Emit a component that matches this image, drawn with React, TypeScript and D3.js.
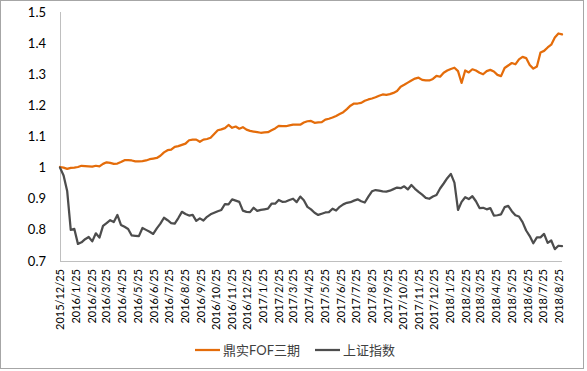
import React from "react";
import * as d3 from "d3";

// weekly net values, starting 2015/12/25
const startDate = "2015-12-25";
const endDate = "2018-08-31";

const fofValues = [
  1.002, 1.0, 0.996, 0.999, 1.0, 1.002, 1.006, 1.005, 1.004, 1.003,
  1.006, 1.004, 1.012, 1.017, 1.015, 1.012, 1.013, 1.018, 1.024, 1.024,
  1.023, 1.02, 1.02, 1.021, 1.023, 1.027, 1.029, 1.031, 1.038, 1.049,
  1.056, 1.058, 1.067, 1.069, 1.073, 1.077, 1.088, 1.09, 1.09, 1.083,
  1.09, 1.092, 1.096, 1.108, 1.12, 1.123, 1.127, 1.137, 1.128, 1.132,
  1.125, 1.13, 1.122, 1.118, 1.116, 1.114, 1.112, 1.113, 1.114, 1.12,
  1.126, 1.134, 1.133, 1.133, 1.136, 1.138, 1.138, 1.138, 1.145, 1.149,
  1.15, 1.144, 1.145, 1.146, 1.154, 1.157, 1.161, 1.166, 1.172, 1.178,
  1.188, 1.199, 1.206, 1.206, 1.208, 1.215, 1.219, 1.222, 1.226, 1.231,
  1.235, 1.234, 1.236, 1.24, 1.246, 1.26, 1.266, 1.273, 1.28, 1.286,
  1.289, 1.282, 1.28, 1.28, 1.285, 1.295, 1.292, 1.305, 1.312, 1.317,
  1.321, 1.31, 1.272, 1.312, 1.306, 1.316, 1.312, 1.305, 1.3, 1.31,
  1.314, 1.309, 1.298, 1.294, 1.32, 1.328, 1.336, 1.332, 1.348, 1.356,
  1.352, 1.33, 1.318, 1.325, 1.37, 1.375, 1.386, 1.395, 1.418, 1.431,
  1.428,
];

const shValues = [
  1.0, 0.975, 0.925, 0.8, 0.803, 0.755, 0.76, 0.77, 0.777, 0.763,
  0.789, 0.775, 0.813, 0.822, 0.831, 0.825, 0.848, 0.816, 0.81, 0.803,
  0.782, 0.781, 0.78, 0.806, 0.8, 0.794, 0.787, 0.805, 0.82, 0.839,
  0.831, 0.822, 0.82, 0.838, 0.858, 0.851, 0.846, 0.848, 0.829, 0.837,
  0.83, 0.842, 0.85, 0.855, 0.86, 0.864, 0.883, 0.882, 0.898, 0.894,
  0.89, 0.862, 0.858, 0.857, 0.871, 0.861, 0.864, 0.866, 0.868, 0.884,
  0.884, 0.896, 0.89, 0.891, 0.896, 0.9, 0.889, 0.907, 0.895, 0.874,
  0.866, 0.855, 0.848, 0.852, 0.856, 0.857, 0.868, 0.862, 0.874, 0.882,
  0.887, 0.889, 0.894, 0.898, 0.892, 0.888, 0.907, 0.924, 0.928, 0.926,
  0.924, 0.923, 0.926, 0.931, 0.936, 0.934, 0.94, 0.93, 0.944, 0.932,
  0.922, 0.913, 0.903, 0.9, 0.907, 0.912, 0.933, 0.949, 0.966, 0.98,
  0.952, 0.864, 0.89, 0.905, 0.899, 0.908, 0.892, 0.87, 0.871, 0.866,
  0.87, 0.846, 0.847, 0.85, 0.873, 0.877, 0.86, 0.847, 0.843, 0.825,
  0.798, 0.78, 0.757, 0.776, 0.776, 0.787, 0.758, 0.766, 0.738, 0.749,
  0.748,
];

const xTickLabels = [
  "2015/12/25", "2016/1/25", "2016/2/25", "2016/3/25", "2016/4/25", "2016/5/25",
  "2016/6/25", "2016/7/25", "2016/8/25", "2016/9/25", "2016/10/25", "2016/11/25",
  "2016/12/25", "2017/1/25", "2017/2/25", "2017/3/25", "2017/4/25", "2017/5/25",
  "2017/6/25", "2017/7/25", "2017/8/25", "2017/9/25", "2017/10/25", "2017/11/25",
  "2017/12/25", "2018/1/25", "2018/2/25", "2018/3/25", "2018/4/25", "2018/5/25",
  "2018/6/25", "2018/7/25", "2018/8/25",
];

const yTicks = [0.7, 0.8, 0.9, 1.0, 1.1, 1.2, 1.3, 1.4, 1.5];

const seriesNames = ["鼎实FOF三期", "上证指数"];
const seriesColors = ["#E46C0A", "#4D4D4D"];

const FONT = "Lato, 'Noto Sans CJK SC', sans-serif";

export default function App() {
  const width = 587, height = 371;
  const parse = d3.timeParse("%Y-%m-%d");
  const parseLabel = d3.timeParse("%Y/%m/%d");
  const t0 = parse(startDate) as Date;

  const x = d3.scaleTime()
    .domain([t0, parse(endDate) as Date])
    .range([60, 562]);
  const y = d3.scaleLinear().domain([0.7, 1.5]).range([261, 12]);

  const dates = fofValues.map((_, i) => d3.timeDay.offset(t0, i * 7));
  const line = d3.line<number>()
    .x((_, i) => x(dates[i]))
    .y(d => y(d));

  const series = [fofValues, shValues];

  return (
    <svg width={width} height={height}
      style={{ position: "absolute", left: 0, top: 0, display: "block", background: "#fff" }}
      fontFamily={FONT}>
      <rect x={0.5} y={0.5} width={583} height={368} fill="#fff" stroke="#A6A6A6" />

      {/* y axis */}
      <line x1={60.5} x2={60.5} y1={y(1.5)} y2={y(0.7)} stroke="#BFBFBF" />
      {yTicks.map(t => (
        <text key={t} x={46} y={y(t)} dy="0.35em" textAnchor="end"
          fontSize={13} fill="#000">{String(+t.toFixed(1))}</text>
      ))}

      {/* x axis */}
      <line x1={60} x2={562} y1={261.5} y2={261.5} stroke="#BFBFBF" />
      {xTickLabels.map(l => {
        const px = x(parseLabel(l) as Date);
        return (
          <text key={l} transform={`translate(${px},269) rotate(-90)`}
            dy="0.35em" textAnchor="end" fontSize={11} fill="#000">{l}</text>
        );
      })}

      {series.map((s, k) => (
        <path key={k} d={line(s) || ""} fill="none" stroke={seriesColors[k]}
          strokeWidth={2.25} strokeLinejoin="round" strokeLinecap="round" />
      ))}

      {/* legend */}
      {seriesNames.map((name, k) => {
        const lx = k === 0 ? 195 : 315;
        return (
          <g key={name}>
            <line x1={lx} x2={lx + 25} y1={350} y2={350} stroke={seriesColors[k]} strokeWidth={2.25} />
            <text x={lx + 28} y={350} dy="0.35em" fontSize={13} fill="#404040">{name}</text>
          </g>
        );
      })}
    </svg>
  );
}
